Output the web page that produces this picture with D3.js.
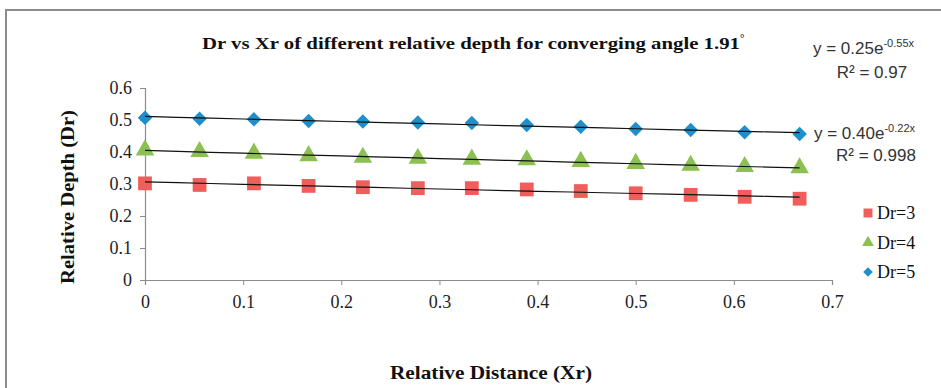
<!DOCTYPE html>
<html>
<head>
<meta charset="utf-8">
<script src="https://cdn.jsdelivr.net/npm/d3@7"></script>
<style>
  body { margin: 0; background: #fff; }
  svg { display: block; }
</style>
</head>
<body>
<div id="chart"></div>
<script>
// Relative distance (Xr) and relative depth (Dr) for each series
const xr = [0, 0.0556, 0.111, 0.1667, 0.222, 0.278, 0.333, 0.389, 0.444, 0.5, 0.556, 0.611, 0.667];
const dr3 = [0.302, 0.297, 0.302, 0.294, 0.290, 0.287, 0.287, 0.283, 0.278, 0.271, 0.266, 0.260, 0.254];
const dr4 = [0.406, 0.401, 0.396, 0.388, 0.383, 0.380, 0.377, 0.375, 0.370, 0.364, 0.358, 0.354, 0.350];
const dr5 = [0.507, 0.504, 0.502, 0.497, 0.495, 0.492, 0.491, 0.484, 0.479, 0.472, 0.469, 0.462, 0.456];
const xTicks = [0, 0.1, 0.2, 0.3, 0.4, 0.5, 0.6, 0.7];
const yTicks = [0, 0.1, 0.2, 0.3, 0.4, 0.5, 0.6];
const seriesNames = ['Dr=3', 'Dr=4', 'Dr=5'];
const fitLabels = [
  { eq: ['y = 0.25e', '-0.55x'], r2: 'R² = 0.97' },
  { eq: ['y = 0.40e', '-0.22x'], r2: 'R² = 0.998' }
];

const W = 941, H = 388;
const serif = '"Liberation Serif", "Times New Roman", serif';
const sans = '"Liberation Sans", Arial, sans-serif';

const svg = d3.select('#chart').append('svg')
  .attr('width', W)
  .attr('height', H);

// outer frame
svg.append('path')
  .attr('d', `M6,${H} L6,10 L${W},10`)
  .attr('fill', 'none')
  .attr('stroke', '#8c8c8c')
  .attr('stroke-width', 2);

const x = d3.scaleLinear().domain([0, 0.7]).range([145, 832]);
const y = d3.scaleLinear().domain([0, 0.6]).range([280, 88]);

// y axis
const yAxis = svg.append('g')
  .attr('transform', `translate(${x(0)},0)`)
  .call(d3.axisLeft(y).tickValues(yTicks).tickSize(5).tickPadding(8)
    .tickFormat(d => d === 0 ? '0' : d3.format('.1f')(d)));
// x axis
const xAxis = svg.append('g')
  .attr('transform', `translate(0,${y(0)})`)
  .call(d3.axisBottom(x).tickValues(xTicks).tickSize(5).tickPadding(8)
    .tickFormat(d => d === 0 ? '0' : d3.format('.1f')(d)));

[yAxis, xAxis].forEach(ax => {
  ax.select('.domain').attr('stroke', '#8c8c8c').attr('stroke-width', 1.2);
  ax.selectAll('.tick line').attr('stroke', '#8c8c8c');
  ax.selectAll('.tick text')
    .attr('fill', '#222')
    .style('font-family', serif)
    .style('font-size', '18px');
});
xAxis.selectAll('.tick text').attr('dy', '0.85em');

// exponential fit, least squares on ln(y)
function expFit(xs, ys) {
  const ly = ys.map(Math.log);
  const n = xs.length;
  const mx = d3.mean(xs), my = d3.mean(ly);
  let sxy = 0, sxx = 0;
  for (let i = 0; i < n; i++) {
    sxy += (xs[i] - mx) * (ly[i] - my);
    sxx += (xs[i] - mx) ** 2;
  }
  const b = sxy / sxx;
  const a = Math.exp(my - b * mx);
  return t => a * Math.exp(b * t);
}

const series = [
  { name: seriesNames[0], values: dr3, color: '#ef5e5a', shape: d3.symbolSquare, size: 190, rot: 0, lsize: 80 },
  { name: seriesNames[1], values: dr4, color: '#8cc152', shape: d3.symbolTriangle, size: 150, rot: 0, lsize: 60 },
  { name: seriesNames[2], values: dr5, color: '#1f8fcb', shape: d3.symbolSquare, size: 105, rot: 45, lsize: 45 }
];

const fitLine = d3.line().x(d => x(d[0])).y(d => y(d[1]));

series.forEach(s => {
  svg.append('g').selectAll('path')
    .data(xr.map((xv, i) => [xv, s.values[i]]))
    .join('path')
    .attr('transform', d => `translate(${x(d[0])},${y(d[1])}) rotate(${s.rot})`)
    .attr('d', d3.symbol().type(s.shape).size(s.size))
    .attr('fill', s.color);
});

// trend lines on top of markers
series.forEach(s => {
  const f = expFit(xr, s.values);
  const pts = d3.range(0, 21).map(i => {
    const t = xr[xr.length - 1] * i / 20;
    return [t, f(t)];
  });
  svg.append('path')
    .attr('d', fitLine(pts))
    .attr('fill', 'none')
    .attr('stroke', '#111')
    .attr('stroke-width', 1.2);
});

// title
const title = svg.append('text')
  .attr('x', 202)
  .attr('y', 49)
  .style('font-family', serif)
  .style('font-weight', 'bold')
  .style('font-size', '17px')
  .attr('fill', '#111');
title.append('tspan')
  .attr('textLength', 538)
  .attr('lengthAdjust', 'spacingAndGlyphs')
  .text('Dr vs Xr of different relative depth for converging angle 1.91');
title.append('tspan')
  .attr('dy', -7)
  .style('font-size', '11px')
  .text('°');

// axis titles
svg.append('text')
  .attr('transform', 'translate(74,197) rotate(-90)')
  .attr('text-anchor', 'middle')
  .style('font-family', serif)
  .style('font-weight', 'bold')
  .style('font-size', '18px')
  .attr('textLength', 174)
  .attr('lengthAdjust', 'spacingAndGlyphs')
  .attr('fill', '#111')
  .text('Relative Depth (Dr)');

svg.append('text')
  .attr('x', 491)
  .attr('y', 379)
  .attr('text-anchor', 'middle')
  .style('font-family', serif)
  .style('font-weight', 'bold')
  .style('font-size', '19px')
  .attr('textLength', 202)
  .attr('lengthAdjust', 'spacingAndGlyphs')
  .attr('fill', '#111')
  .text('Relative Distance (Xr)');

// fit equations
const fitPos = [{ x: 813, y: 54, rx: 872, ry: 78 }, { x: 814, y: 139, rx: 876, ry: 161 }];
fitLabels.forEach((lab, i) => {
  const p = fitPos[i];
  const t = svg.append('text')
    .attr('x', p.x).attr('y', p.y)
    .style('font-family', sans)
    .style('font-size', '17px')
    .attr('fill', '#333')
    .text(lab.eq[0]);
  t.append('tspan')
    .attr('dy', -7)
    .style('font-size', '11px')
    .text(lab.eq[1]);
  svg.append('text')
    .attr('x', p.rx).attr('y', p.ry)
    .attr('text-anchor', 'middle')
    .style('font-family', sans)
    .style('font-size', '17px')
    .attr('fill', '#333')
    .text(lab.r2);
});

// legend
const legend = svg.append('g').attr('transform', 'translate(868,213)');
series.forEach((s, i) => {
  const g = legend.append('g').attr('transform', `translate(0,${i * 29.5})`);
  g.append('path')
    .attr('transform', `rotate(${s.rot})`)
    .attr('d', d3.symbol().type(s.shape).size(s.lsize))
    .attr('fill', s.color);
  g.append('text')
    .attr('x', 9)
    .attr('y', 6)
    .style('font-family', serif)
    .style('font-size', '18px')
    .attr('fill', '#111')
    .text(s.name);
});
</script>
</body>
</html>
